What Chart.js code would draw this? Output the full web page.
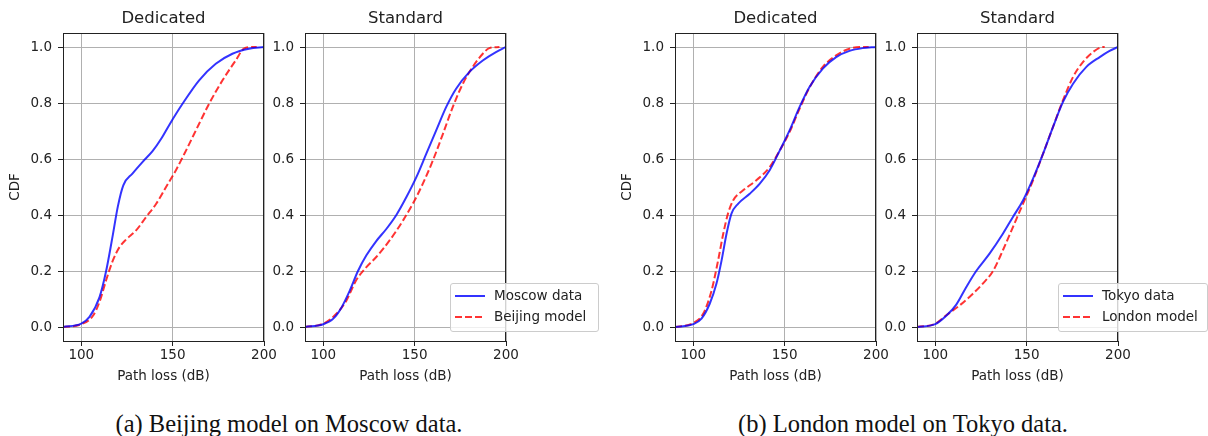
<!DOCTYPE html>
<html>
<head>
<meta charset="utf-8">
<script src="https://cdn.jsdelivr.net/npm/chart.js@4.4.1/dist/chart.umd.min.js"></script>
<style>
  body { margin: 0; background: #fff; width: 1208px; height: 436px; position: relative; overflow: hidden; font-family: "DejaVu Sans", sans-serif; }
  .panel { position: absolute; top: 0; }
  .legend { position: absolute; top: 283px; height: 47px; background: rgba(255,255,255,0.8); border: 1px solid #ccc; border-radius: 3px; font-size: 13.5px; color: #222; z-index: 5; }
  .legend .row { position: absolute; left: 0; right: 0; height: 20px; }
  .legend svg { position: absolute; left: 4px; top: 8px; }
  .legend span { position: absolute; left: 43px; top: 1px; white-space: nowrap; }
  .caption { position: absolute; top: 410px; line-height: 28px; font-family: "Liberation Serif", serif; font-size: 24.5px; color: #111; transform: translateX(-50%); white-space: nowrap; }
</style>
</head>
<body>
<canvas id="c0" class="panel" width="281" height="400" style="left:3px"></canvas>
<canvas id="c1" class="panel" width="281" height="400" style="left:245px"></canvas>
<canvas id="c2" class="panel" width="281" height="400" style="left:615px"></canvas>
<canvas id="c3" class="panel" width="281" height="400" style="left:857px"></canvas>

<div class="legend" style="left:450px;width:147px">
  <div class="row" style="top:2px"><svg width="30" height="4"><line x1="0" y1="2" x2="30" y2="2" stroke="rgba(0,0,255,0.8)" stroke-width="2"/></svg><span>Moscow data</span></div>
  <div class="row" style="top:23px"><svg width="30" height="4"><line x1="0" y1="2" x2="30" y2="2" stroke="rgba(255,0,0,0.8)" stroke-width="2" stroke-dasharray="7 3"/></svg><span>Beijing model</span></div>
</div>
<div class="legend" style="left:1058px;width:148px">
  <div class="row" style="top:2px"><svg width="30" height="4"><line x1="0" y1="2" x2="30" y2="2" stroke="rgba(0,0,255,0.8)" stroke-width="2"/></svg><span>Tokyo data</span></div>
  <div class="row" style="top:23px"><svg width="30" height="4"><line x1="0" y1="2" x2="30" y2="2" stroke="rgba(255,0,0,0.8)" stroke-width="2" stroke-dasharray="7 3"/></svg><span>London model</span></div>
</div>

<div class="caption" style="left:289px">(a) Beijing model on Moscow data.</div>
<div class="caption" style="left:903px">(b) London model on Tokyo data.</div>

<script>
// axis ticks
const xTicks = [100, 150, 200];
const yTicks = [0, 0.2, 0.4, 0.6, 0.8, 1.0];
const titles = ["Dedicated", "Standard", "Dedicated", "Standard"];

// (a) dedicated - Moscow data / Beijing model
const moscowDedX = [90, 100, 104.5, 110, 113.6, 117.3, 120, 123, 128, 133.6, 139, 144, 148, 155.5, 164.5, 173.6, 182.7, 191.8, 200];
const moscowDedY = [0, 0.012, 0.036, 0.107, 0.2, 0.33, 0.43, 0.506, 0.548, 0.59, 0.628, 0.675, 0.72, 0.798, 0.881, 0.94, 0.976, 0.994, 1.0];
const beijingDedX = [90, 100, 106.4, 110, 113.6, 117.3, 121, 124.5, 130, 135.5, 141, 146.4, 151.8, 157.3, 164.5, 170, 177.3, 184.5, 189, 193.6, 196];
const beijingDedY = [0, 0.01, 0.04, 0.09, 0.167, 0.238, 0.286, 0.312, 0.345, 0.393, 0.44, 0.5, 0.56, 0.63, 0.726, 0.798, 0.881, 0.952, 0.994, 1.0, 1.0];

// (a) standard
const moscowStdX = [90, 100, 105.5, 110, 114.5, 119, 123.6, 129, 134.5, 140, 145.5, 151, 156.4, 161.8, 167.3, 172.7, 180, 187.3, 194.5, 200];
const moscowStdY = [0, 0.01, 0.03, 0.07, 0.13, 0.2, 0.256, 0.307, 0.35, 0.4, 0.464, 0.536, 0.619, 0.702, 0.786, 0.851, 0.911, 0.952, 0.982, 1.0];
const beijingStdX = [90, 100, 107.3, 112.7, 118, 123.6, 129, 136.4, 143.6, 149, 154.5, 160, 165.5, 170.9, 176.4, 181.8, 187.3, 190.9, 196.4];
const beijingStdY = [0, 0.012, 0.048, 0.095, 0.167, 0.214, 0.25, 0.31, 0.38, 0.44, 0.512, 0.595, 0.69, 0.786, 0.869, 0.929, 0.976, 0.996, 1.0];

// (b) dedicated - Tokyo data / London model
const tokyoDedX = [90, 100, 104.5, 109, 112.7, 115.5, 118.2, 120.9, 124.5, 130.9, 136.4, 141.8, 147.3, 152.7, 158.2, 163.6, 170.9, 178.2, 185.5, 192.7, 200];
const tokyoDedY = [0, 0.01, 0.03, 0.083, 0.155, 0.238, 0.333, 0.405, 0.44, 0.476, 0.512, 0.56, 0.63, 0.702, 0.786, 0.857, 0.923, 0.964, 0.986, 0.996, 1.0];
const londonDedX = [90, 100, 105.5, 110, 113.6, 116.4, 119, 121.8, 127.3, 134.5, 141.8, 147.3, 152.7, 158.2, 163.6, 170.9, 178.2, 185.5, 192.7, 196];
const londonDedY = [0, 0.014, 0.048, 0.13, 0.238, 0.333, 0.405, 0.452, 0.488, 0.524, 0.571, 0.63, 0.696, 0.78, 0.855, 0.929, 0.97, 0.994, 1.0, 1.0];

// (b) standard
const tokyoStdX = [90, 100, 106, 111.5, 117, 122.4, 129.7, 137, 142.5, 148, 153.5, 159, 164.4, 169.9, 175.4, 182.7, 190, 195.4, 200];
const tokyoStdY = [0, 0.01, 0.04, 0.08, 0.143, 0.2, 0.262, 0.333, 0.393, 0.452, 0.53, 0.619, 0.714, 0.804, 0.869, 0.929, 0.964, 0.986, 1.0];
const londonStdX = [90, 100, 106, 113.3, 120.6, 126, 131.6, 137, 142.5, 148, 153.5, 159, 164.4, 169.9, 175.4, 180.8, 186.3, 191.8, 192.7];
const londonStdY = [0, 0.012, 0.042, 0.077, 0.119, 0.155, 0.2, 0.274, 0.357, 0.44, 0.524, 0.619, 0.714, 0.81, 0.893, 0.946, 0.982, 1.0, 1.0];

const panels = [
  [moscowDedX, moscowDedY, beijingDedX, beijingDedY],
  [moscowStdX, moscowStdY, beijingStdX, beijingStdY],
  [tokyoDedX, tokyoDedY, londonDedX, londonDedY],
  [tokyoStdX, tokyoStdY, londonStdX, londonStdY]
];

const FONT = "'DejaVu Sans', sans-serif";
const TXT = "#222";

const pts = (xs, ys) => xs.map((x, i) => ({x: x, y: ys[i]}));

// matplotlib-like box around the plot + subplot title centred on the plot area
const frame = {
  id: "frame",
  afterDraw(chart, args, opts) {
    const a = chart.chartArea, ctx = chart.ctx;
    ctx.save();
    ctx.strokeStyle = "#222";
    ctx.lineWidth = 1;
    ctx.strokeRect(Math.round(a.left) + 0.5, Math.round(a.top) + 0.5, Math.round(a.right - a.left) - 1, Math.round(a.bottom - a.top));
    ctx.fillStyle = TXT;
    ctx.font = "16.5px " + FONT;
    ctx.textAlign = "center";
    ctx.textBaseline = "middle";
    ctx.fillText(opts.text, (a.left + a.right) / 2, 19);
    ctx.restore();
  }
};

panels.forEach((p, i) => {
  const showCdf = (i % 2 === 0);
  new Chart(document.getElementById("c" + i), {
    type: "line",
    data: {
      datasets: [
        {data: pts(p[0], p[1]), borderColor: "rgba(0,0,255,0.8)", borderWidth: 2, pointRadius: 0, cubicInterpolationMode: "monotone"},
        {data: pts(p[2], p[3]), borderColor: "rgba(255,0,0,0.8)", borderWidth: 2, borderDash: [7, 3], pointRadius: 0, cubicInterpolationMode: "monotone"}
      ]
    },
    options: {
      responsive: false,
      animation: false,
      devicePixelRatio: 1,
      layout: {padding: {left: 0, right: 20, top: 33, bottom: 0}},
      plugins: {
        legend: {display: false},
        tooltip: {enabled: false},
        title: {display: false},
        frame: {text: titles[i]}
      },
      scales: {
        x: {
          type: "linear", min: 90, max: 200,
          afterBuildTicks: s => { s.ticks = xTicks.map(v => ({value: v})); },
          afterFit: s => { s.height = 59; },
          grid: {color: "#b0b0b0", lineWidth: 1, tickColor: "#222", tickLength: 5},
          border: {display: false},
          ticks: {color: TXT, font: {family: FONT, size: 13.5}, padding: 1, maxRotation: 0, callback: v => String(v)},
          title: {display: true, text: "Path loss (dB)", color: TXT, font: {family: FONT, size: 13.5}, padding: {top: 0, bottom: 15}}
        },
        y: {
          min: -0.05, max: 1.05,
          afterBuildTicks: s => { s.ticks = yTicks.map(v => ({value: v})); },
          afterFit: s => { s.width = 60; },
          grid: {color: "#b0b0b0", lineWidth: 1, tickColor: "#222", tickLength: 5},
          border: {display: false},
          ticks: {color: TXT, font: {family: FONT, size: 13.5}, padding: 6, callback: v => v.toFixed(1)},
          title: {display: showCdf, text: "CDF", color: TXT, font: {family: FONT, size: 13.5}, padding: 4}
        }
      }
    },
    plugins: [frame]
  });
});
</script>
</body>
</html>
